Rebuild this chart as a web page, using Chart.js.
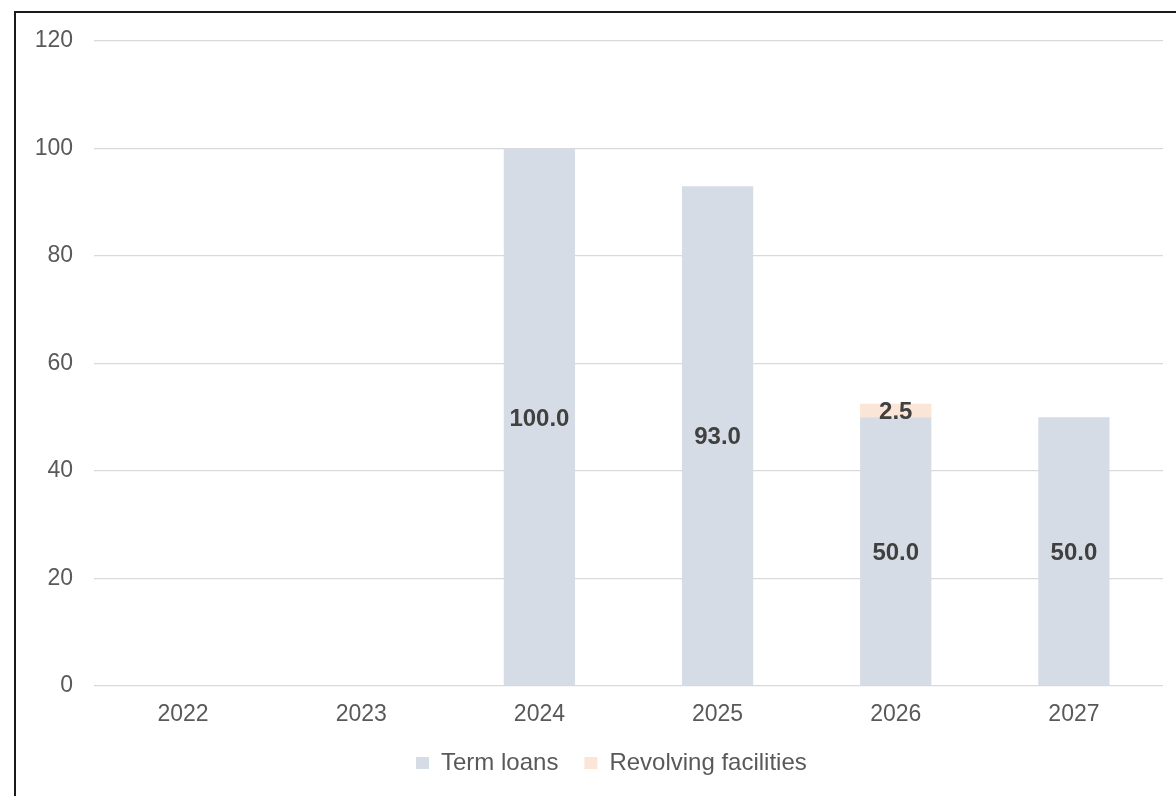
<!DOCTYPE html>
<html>
<head>
<meta charset="utf-8">
<title>Debt maturity profile</title>
<script src="https://cdn.jsdelivr.net/npm/chart.js@4.4.1/dist/chart.umd.min.js"></script>
<style>
  html, body { margin: 0; padding: 0; background: #ffffff; overflow: hidden; }
  #wrap { position: relative; width: 1176px; height: 796px; }
  #frame {
    position: absolute; left: 14px; top: 11px;
    width: 1300px; height: 900px;
    border: 2px solid #1a1a1a; box-sizing: border-box;
  }
  canvas { position: absolute; left: 0; top: 0; }
</style>
</head>
<body>
<div id="wrap">
  <div id="frame"></div>
  <canvas id="chart" width="1176" height="796"></canvas>
</div>
<script>
// Maturity years and amounts due per facility type
const years = ['2022', '2023', '2024', '2025', '2026', '2027'];
const termLoans = [null, null, 100.0, 93.0, 50.0, 50.0];
const revolvingFacilities = [null, null, null, null, 2.5, null];
const yTicks = [0, 20, 40, 60, 80, 100, 120];

const FONT = '"Liberation Sans", Arial, Helvetica, sans-serif';

// Writes each segment's value in the middle of its bar
const barValueLabels = {
  id: 'barValueLabels',
  afterDatasetsDraw(chart) {
    const ctx = chart.ctx;
    ctx.save();
    ctx.font = 'bold 24px ' + FONT;
    ctx.fillStyle = '#404040';
    ctx.textAlign = 'center';
    ctx.textBaseline = 'middle';
    chart.data.datasets.forEach((ds, di) => {
      const meta = chart.getDatasetMeta(di);
      meta.data.forEach((bar, i) => {
        const v = ds.data[i];
        if (v === null || v === undefined || v <= 0) return;
        const cy = (bar.y + bar.base) / 2;
        ctx.fillText(v.toFixed(1), bar.x, cy + 2);
      });
    });
    ctx.restore();
  }
};

// Places the legend row under the plot, a little right of centre
const legendPlacement = {
  id: 'legendPlacement',
  afterLayout(chart) {
    const L = chart.legend;
    if (!L || !L.lineWidths) return;
    const pad = L.options.labels.padding;
    const startX = (L.left + pad + L.right - L.lineWidths[0]) / 2;
    const dx = 416 - startX;
    const dy = 725 - L.top;
    L.left += dx; L.right += dx;
    L.top += dy; L.bottom += dy;
  }
};

new Chart(document.getElementById('chart'), {
  type: 'bar',
  data: {
    labels: years,
    datasets: [
      {
        label: 'Term loans',
        data: termLoans,
        backgroundColor: '#D6DCE5',
        borderWidth: 0,
        barPercentage: 0.4,
        categoryPercentage: 1.0
      },
      {
        label: 'Revolving facilities',
        data: revolvingFacilities,
        backgroundColor: '#FBE5D6',
        borderWidth: 0,
        barPercentage: 0.4,
        categoryPercentage: 1.0
      }
    ]
  },
  options: {
    responsive: false,
    animation: false,
    layout: { padding: { left: 0, right: 13, top: 41, bottom: 15 } },
    plugins: {
      tooltip: { enabled: false },
      legend: {
        position: 'bottom',
        labels: {
          color: '#595959',
          font: { family: FONT, size: 24 },
          boxWidth: 13,
          boxHeight: 12,
          padding: 26
        }
      }
    },
    scales: {
      x: {
        stacked: true,
        grid: { display: false, drawTicks: false },
        border: { display: false },
        ticks: {
          color: '#595959',
          font: { family: FONT, size: 23 },
          padding: 15,
          maxRotation: 0
        },
        afterFit(scale) { scale.height = 35; }
      },
      y: {
        stacked: true,
        min: yTicks[0],
        max: yTicks[yTicks.length - 1],
        afterBuildTicks(scale) { scale.ticks = yTicks.map(v => ({ value: v })); },
        grid: { color: '#D9D9D9', lineWidth: 1.3, drawTicks: false },
        border: { display: false },
        ticks: {
          color: '#595959',
          font: { family: FONT, size: 23 },
          padding: 21
        },
        afterFit(scale) { scale.width = 94; }
      }
    }
  },
  plugins: [barValueLabels, legendPlacement]
});
</script>
</body>
</html>
